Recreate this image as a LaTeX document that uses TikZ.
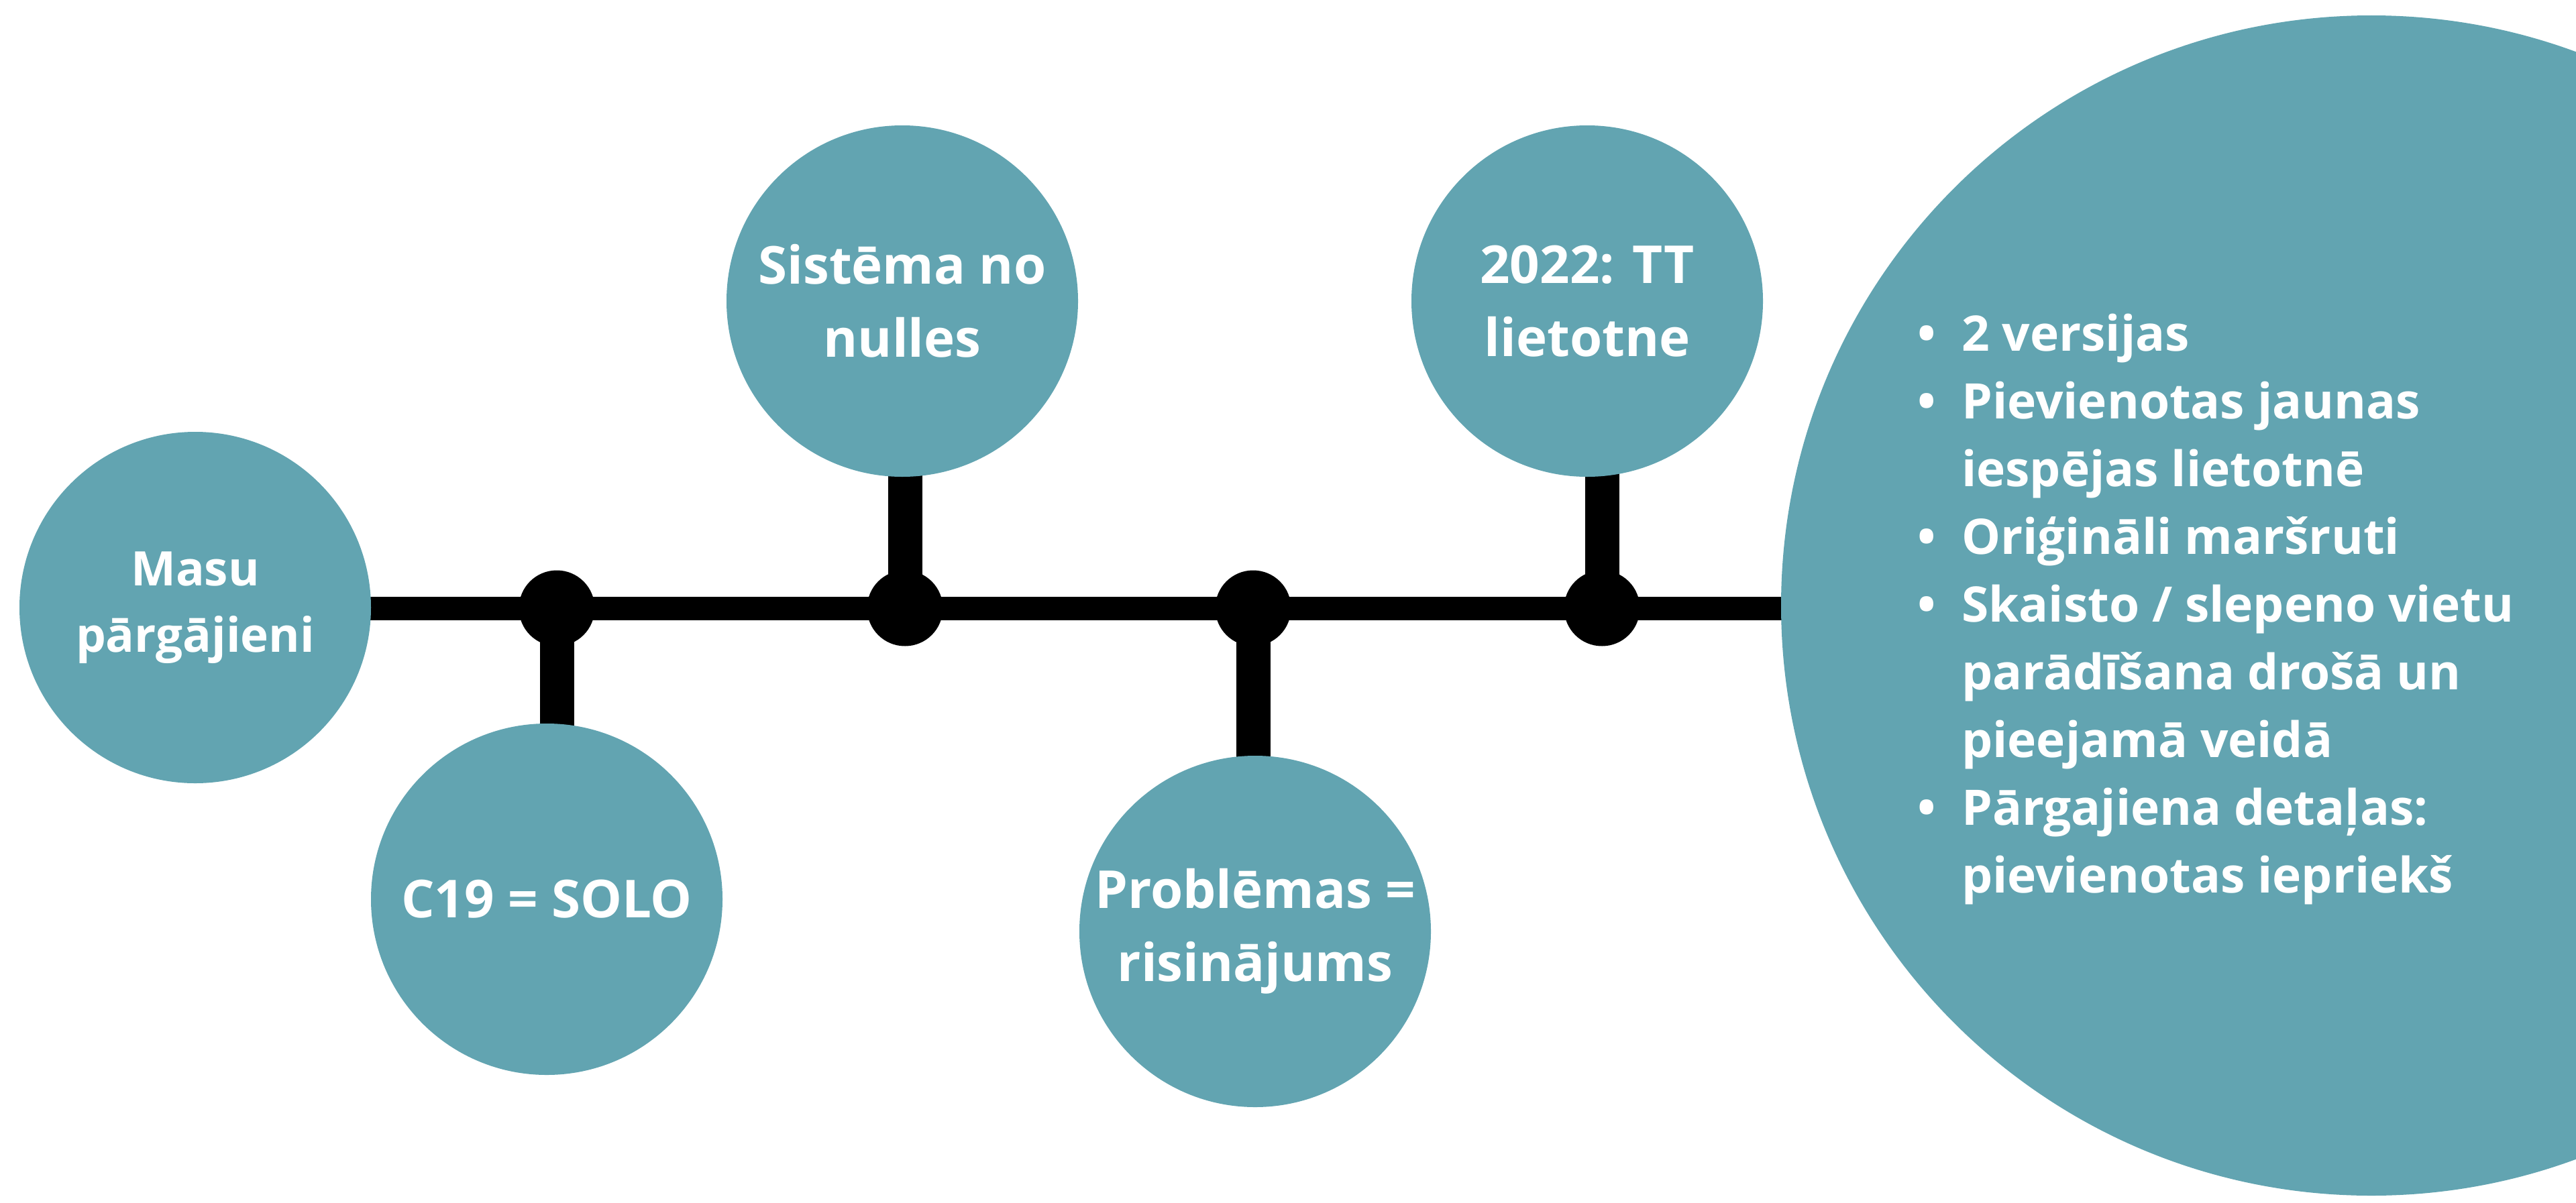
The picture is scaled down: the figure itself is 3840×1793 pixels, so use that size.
\documentclass[tikz,border=0pt]{standalone}
\usepackage{fontspec}
\setmainfont{Open Sans}
\usetikzlibrary{backgrounds,calc}
\definecolor{teal}{HTML}{62A4B1}
\begin{document}
\begin{tikzpicture}[x=1pt,y=-1pt,
  bubble/.style={circle,fill=teal,minimum size=524pt,inner sep=0pt,text=white,align=center,
    font=\fontsize{78}{109}\selectfont\bfseries},
  dot/.style={circle,fill=black,minimum size=113pt,inner sep=0pt},
  mainline/.style={fill=black},
  stub/.style={line width=51pt}]
\useasboundingbox (0,0) rectangle (3840,1793);
\clip (0,0) rectangle (3840,1793);
\node[bubble,font=\fontsize{71}{99}\selectfont\bfseries] (masu) at (291,906) {Masu\\pārgājieni};
\node[bubble] (c19) at (815,1341) {C19 = SOLO};
\node[bubble] (sis) at (1345,449) {Sistēma no\\nulles};
\node[bubble] (prob) at (1871,1389) {Problēmas =\\risinājums};
\node[bubble] (tt) at (2366,449) {2022: TT\\lietotne};
\node[circle,fill=teal,minimum size=1760pt,inner sep=0pt] (big) at (3535,903) {};
\node[dot] (d1) at (830,907) {};
\node[dot] (d2) at (1349,907) {};
\node[dot] (d3) at (1868,907) {};
\node[dot] (d4) at (2388,907) {};
\node[anchor=base west,inner sep=0pt,text=white,font=\fontsize{73}{101}\selectfont\bfseries] (list) at (2858,523)
{\begin{tabular}[t]{@{}l@{}l@{}}
\makebox[66pt][l]{•} & 2 versijas\\
\makebox[66pt][l]{•} & Pievienotas jaunas\\
 & iespējas lietotnē\\
\makebox[66pt][l]{•} & Oriģināli maršruti\\
\makebox[66pt][l]{•} & Skaisto / slepeno vietu\\
 & parādīšana drošā un\\
 & pieejamā veidā\\
\makebox[66pt][l]{•} & Pārgajiena detaļas:\\
 & pievienotas iepriekš
\end{tabular}};
\begin{scope}[on background layer]
\fill[mainline] ($(masu.center |- d1.center)+(0,-17.5)$) rectangle ($(big.center |- d1.center)+(0,17.5)$);
\draw[stub] (d1.center) -- (d1.center |- c19.center);
\draw[stub] (d2.center) -- (d2.center |- sis.center);
\draw[stub] (d3.center) -- (d3.center |- prob.center);
\draw[stub] (d4.center) -- (d4.center |- tt.center);
\end{scope}
\end{tikzpicture}
\end{document}
